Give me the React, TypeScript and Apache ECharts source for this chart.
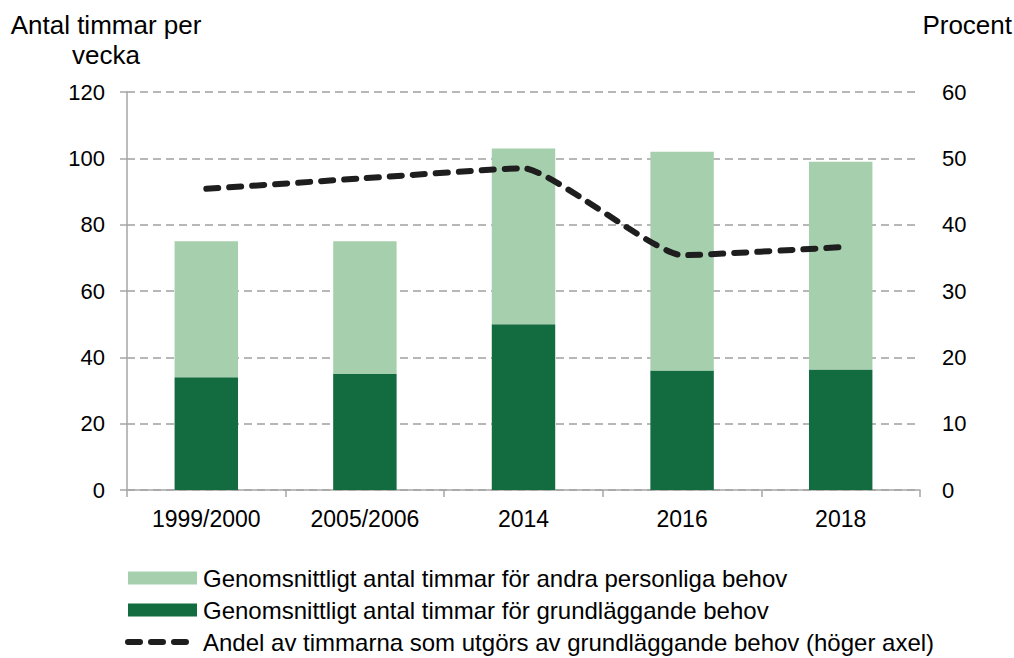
import React, { useEffect, useRef } from "react";
import * as echarts from "echarts";

const categories = ["1999/2000", "2005/2006", "2014", "2016", "2018"];
const basicNeeds = [34, 35, 50, 36, 36.3];
const otherNeeds = [41, 40, 53, 66, 62.7];
const shareBasic = [45.4, 47.0, 48.5, 35.4, 36.6];
const leftTicks = { min: 0, max: 120, interval: 20 };
const rightTicks = { min: 0, max: 60, interval: 10 };

const nameOther = "Genomsnittligt antal timmar för andra personliga behov";
const nameBasic = "Genomsnittligt antal timmar för grundläggande behov";
const nameShare = "Andel av timmarna som utgörs av grundläggande behov (höger axel)";

const FONT = '"Liberation Sans", Arial, sans-serif';
const AXIS_GRAY = "#a6a6a6";
const LINE_COLOR = "#1e1e1e";

export default function App() {
  const ref = useRef<HTMLDivElement>(null);
  useEffect(() => {
    if (!ref.current) return;
    const chart = echarts.init(ref.current, null, { renderer: "svg" });
    chart.setOption({
      animation: false,
      textStyle: { fontFamily: FONT, color: "#000" },
      grid: { left: 127, right: 94, top: 92, bottom: 168, containLabel: false },
      graphic: [
        {
          type: "text",
          x: 106,
          y: 10,
          style: {
            text: "Antal timmar per\nvecka",
            font: `26px ${FONT}`,
            fill: "#000",
            textAlign: "center",
            lineHeight: 30,
          },
        },
        {
          type: "text",
          x: 1012,
          y: 10,
          style: {
            text: "Procent",
            font: `26px ${FONT}`,
            fill: "#000",
            textAlign: "right",
            lineHeight: 30,
          },
        },
      ],
      legend: {
        orient: "vertical",
        left: 125,
        top: 566,
        padding: 0,
        itemGap: 8,
        itemWidth: 69,
        itemHeight: 13,
        textStyle: { fontSize: 24, lineHeight: 24, fontFamily: FONT, color: "#000", padding: [0, 0, 0, 1] },
        data: [
          { name: nameOther, icon: "rect" },
          { name: nameBasic, icon: "rect" },
          {
            name: nameShare,
            itemStyle: { opacity: 0 },
            lineStyle: { width: 6, type: [12, 11], cap: "round", color: LINE_COLOR },
          },
        ],
      },
      xAxis: {
        type: "category",
        data: categories,
        boundaryGap: true,
        axisLine: { lineStyle: { color: AXIS_GRAY, width: 1.5 } },
        axisTick: { show: true, length: 7, alignWithLabel: false, lineStyle: { color: AXIS_GRAY, width: 1.5 } },
        axisLabel: { fontSize: 23, color: "#000", margin: 17, fontFamily: FONT },
      },
      yAxis: [
        {
          type: "value",
          min: leftTicks.min,
          max: leftTicks.max,
          interval: leftTicks.interval,
          axisLine: { show: true, lineStyle: { color: AXIS_GRAY, width: 1.5 } },
          axisTick: { show: true, length: 7, lineStyle: { color: AXIS_GRAY, width: 1.5 } },
          axisLabel: { fontSize: 22, color: "#000", margin: 22, fontFamily: FONT },
          splitLine: { show: true, lineStyle: { color: "#a0a0a0", width: 1.5, type: [8, 5] } },
        },
        {
          type: "value",
          position: "right",
          min: rightTicks.min,
          max: rightTicks.max,
          interval: rightTicks.interval,
          axisLine: { show: false },
          axisTick: { show: false },
          axisLabel: { fontSize: 22, color: "#000", margin: 22, fontFamily: FONT },
          splitLine: { show: false },
        },
      ],
      series: [
        {
          name: nameBasic,
          type: "bar",
          stack: "hours",
          data: basicNeeds,
          barWidth: "40%",
          itemStyle: { color: "#136b40" },
        },
        {
          name: nameOther,
          type: "bar",
          stack: "hours",
          data: otherNeeds,
          barWidth: "40%",
          itemStyle: { color: "#a6d0ad" },
        },
        {
          name: nameShare,
          type: "line",
          yAxisIndex: 1,
          data: shareBasic,
          smooth: 0.15,
          symbol: "none",
          lineStyle: { color: LINE_COLOR, width: 6, type: [12, 11], cap: "round" },
          itemStyle: { color: LINE_COLOR },
          z: 5,
        },
      ],
    });
    return () => chart.dispose();
  }, []);
  return (
    <div
      ref={ref}
      style={{ position: "absolute", left: 0, top: 0, width: 1014, height: 658 }}
    />
  );
}
